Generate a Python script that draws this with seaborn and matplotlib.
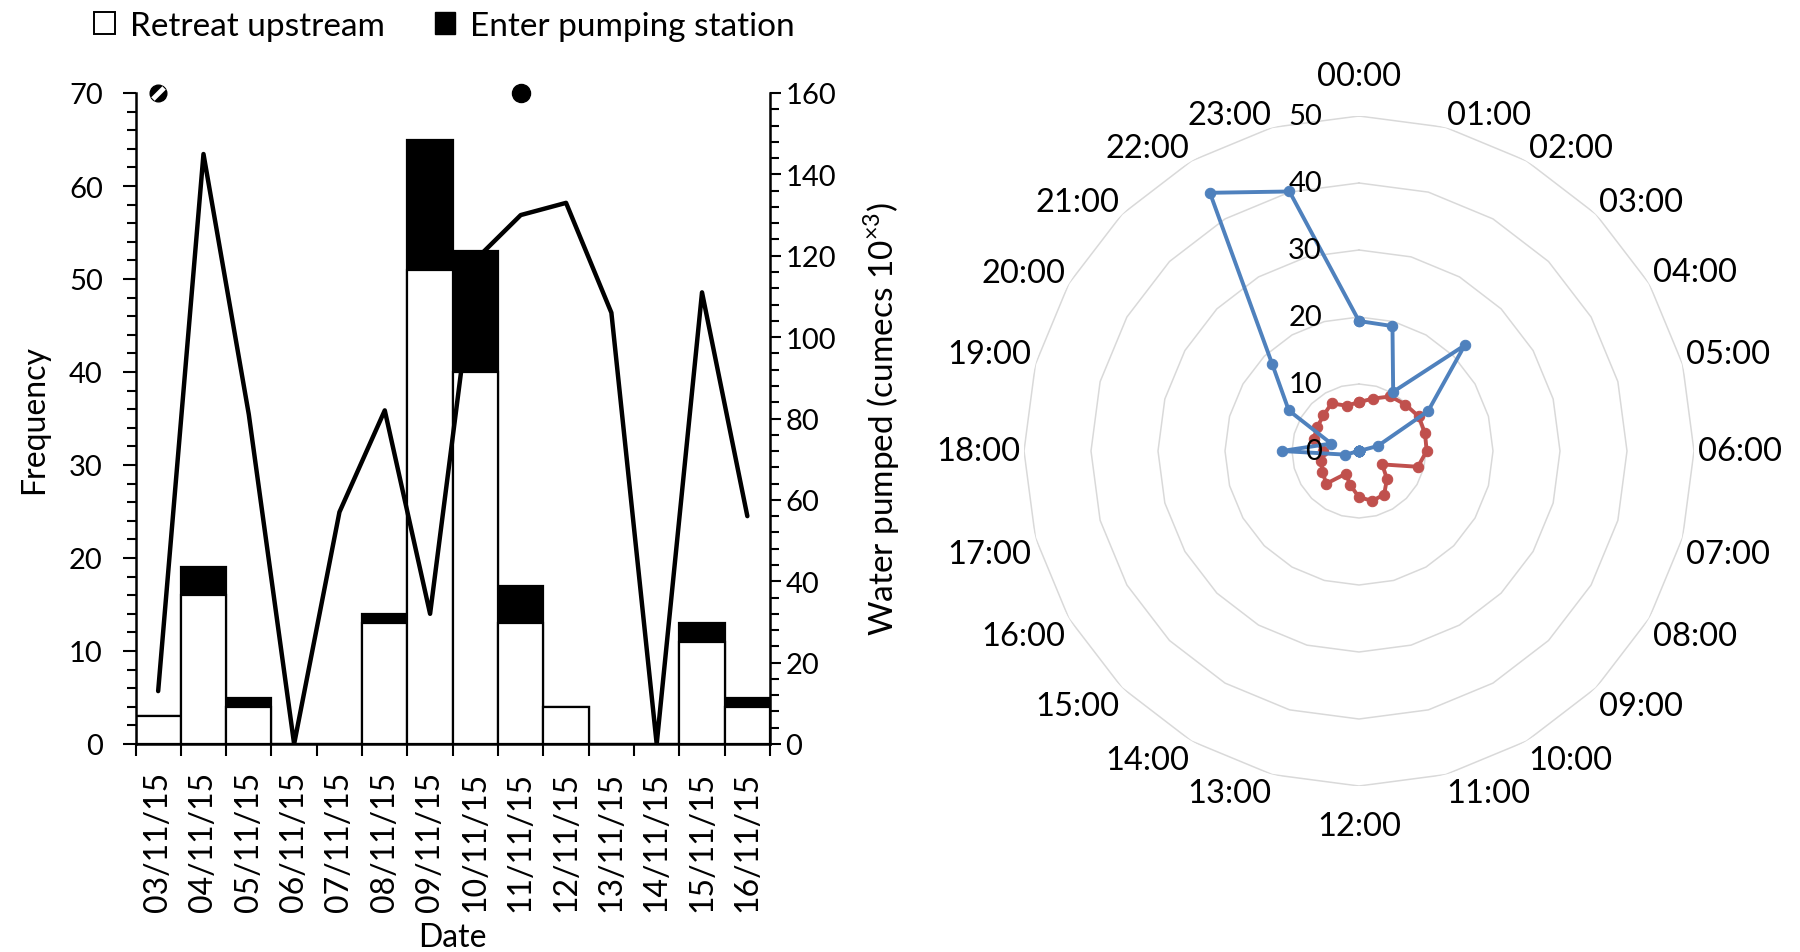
import numpy as np
import matplotlib
matplotlib.use('Agg')
import matplotlib.pyplot as plt
from matplotlib.patches import Patch
from matplotlib.path import Path
from matplotlib.ticker import MultipleLocator, FixedLocator
import seaborn as sns

# left panel: daily counts and pumped volume
dates = ['03/11/15', '04/11/15', '05/11/15', '06/11/15', '07/11/15', '08/11/15', '09/11/15',
         '10/11/15', '11/11/15', '12/11/15', '13/11/15', '14/11/15', '15/11/15', '16/11/15']
retreat = [3, 16, 4, 0, 0, 13, 51, 40, 13, 4, 0, 0, 11, 4]
enter = [0, 3, 1, 0, 0, 1, 14, 13, 4, 0, 0, 0, 2, 1]
water = [13, 145, 81, 0, 57, 82, 32, 119, 130, 133, 106, 0, 111, 56]
moon_dates = ['03/11/15', '11/11/15']
moon_phase = ['quarter', 'full']

# right panel: radar by hour of day
hours = ['00:00', '01:00', '02:00', '03:00', '04:00', '05:00', '06:00', '07:00',
         '08:00', '09:00', '10:00', '11:00', '12:00', '13:00', '14:00', '15:00',
         '16:00', '17:00', '18:00', '19:00', '20:00', '21:00', '22:00', '23:00']
blue_vals = [19.4, 19.3, 10.2, 22.3, 11.9, 2.9, 0, 0, 0, 0, 0, 0,
             0, 0, 0, 0, 0, 2.1, 11.5, 4.3, 12.1, 18.3, 44.5, 40.1]
red_vals = [7.3, 8.1, 9.4, 9.8, 10.3, 10.2, 10.1, 9.1, 4.0, 5.9, 7.5, 7.7,
            6.9, 5.2, 3.9, 6.9, 6.3, 5.8, 5.3, 7.0, 7.2, 7.5, 8.2, 7.0]
radial_ticks = [0, 10, 20, 30, 40, 50]

sns.set_theme(style='ticks')
plt.rcParams['font.family'] = ['Lato', 'DejaVu Sans']
plt.rcParams['mathtext.fontset'] = 'custom'
plt.rcParams['mathtext.rm'] = 'Lato'
plt.rcParams['axes.edgecolor'] = 'black'
plt.rcParams['xtick.color'] = 'black'
plt.rcParams['ytick.color'] = 'black'
plt.rcParams['text.color'] = 'black'
plt.rcParams['axes.labelcolor'] = 'black'

TICK_FS = 21
DATE_FS = 23
LABEL_FS = 23
LEG_FS = 24
HOUR_FS = 23.5
RAD_FS = 21

fig = plt.figure(figsize=(18, 9.53), dpi=100)

# ---------- bar + line chart ----------
ax = fig.add_axes([135.5 / 1800, (953 - 745) / 953, 634.5 / 1800, 651 / 953])
total = [r + e for r, e in zip(retreat, enter)]
sns.barplot(x=dates, y=total, color='black', saturation=1, width=1.0,
            edgecolor='black', linewidth=1.6, ax=ax)
sns.barplot(x=dates, y=retreat, color='white', saturation=1, width=1.0,
            edgecolor='black', linewidth=1.6, ax=ax)
ax.set_xlim(-0.5, len(dates) - 0.5)
ax.set_ylim(0, 70)
ax.yaxis.set_major_locator(MultipleLocator(10))
ax.yaxis.set_minor_locator(MultipleLocator(2))
ax.set_xticks(range(len(dates)))
ax.set_xticklabels(dates, rotation=90, fontsize=DATE_FS)
ax.xaxis.set_minor_locator(FixedLocator(np.arange(-0.5, len(dates), 1.0)))
ax.tick_params(axis='x', which='major', length=0, pad=19)
ax.tick_params(axis='x', which='minor', length=8.5, width=1.5, direction='out')
ax.tick_params(axis='y', which='major', length=9.5, width=1.5, direction='out',
               labelsize=TICK_FS, pad=14)
ax.tick_params(axis='y', which='minor', length=6.5, width=1.5, direction='out')
for s in ['left', 'bottom']:
    ax.spines[s].set_linewidth(1.8)
ax.spines['top'].set_visible(False)
ax.spines['right'].set_visible(False)
ax.set_ylabel('Frequency', fontsize=LABEL_FS, labelpad=14)
ax.set_xlabel('Date', fontsize=LABEL_FS, labelpad=8)

# moon phase symbols on top of the frequency axis
for d, ph in zip(moon_dates, moon_phase):
    xi = dates.index(d)
    if ph == 'full':
        ax.plot([xi], [70], marker='o', ms=13, color='black', clip_on=False, zorder=5)
    else:
        ax.plot([xi], [70], marker='o', ms=12, color='black', clip_on=False, zorder=5)
        slash = Path([(-1, -1), (1, 1)], [Path.MOVETO, Path.LINETO])
        ax.plot([xi], [70], marker=slash, ms=8, mew=3.5, color='white', clip_on=False, zorder=6)

ax2 = ax.twinx()
ax2.set_position(ax.get_position())
sns.lineplot(x=np.arange(len(dates)), y=water, color='black', linewidth=3.2, ax=ax2)
ax2.set_ylim(0, 160)
ax2.set_xlim(-0.5, len(dates) - 0.5)
ax2.yaxis.set_major_locator(MultipleLocator(20))
ax2.yaxis.set_minor_locator(MultipleLocator(4))
ax2.tick_params(axis='y', which='major', length=8, width=1.5, direction='out',
                labelsize=TICK_FS, pad=3)
ax2.tick_params(axis='y', which='minor', length=6.5, width=1.5, direction='out')
ax2.spines['right'].set_linewidth(1.8)
for s in ['top', 'left', 'bottom']:
    ax2.spines[s].set_visible(False)
ax2.set_ylabel(r'Water pumped (cumecs 10$^{\times3}$)', fontsize=LABEL_FS + 1, labelpad=18)

fig.legend(handles=[Patch(facecolor='white', edgecolor='black', linewidth=1.4),
                    Patch(facecolor='black', edgecolor='black')],
           labels=['Retreat upstream', 'Enter pumping station'],
           loc='upper left', bbox_to_anchor=(94 / 1800, 1 - 12 / 953), ncol=2, frameon=False,
           handlelength=0.62, handleheight=0.62, handletextpad=0.45,
           columnspacing=1.5, fontsize=LEG_FS, borderaxespad=0, borderpad=0)

# ---------- radar chart ----------
R_PX = 335
cx, cy = 1359, 452
pax = fig.add_axes([(cx - R_PX) / 1800, (953 - cy - R_PX) / 953, 2 * R_PX / 1800, 2 * R_PX / 953],
                   projection='polar')
pax.set_theta_zero_location('N')
pax.set_theta_direction(-1)
theta = np.linspace(0, 2 * np.pi, len(hours), endpoint=False)
theta_c = np.append(theta, 2 * np.pi)

for r in radial_ticks[1:]:
    pax.plot(theta_c, [r] * len(theta_c), color='#d9d9d9', lw=1.1, zorder=0)

red_c = red_vals + red_vals[:1]
blue_c = blue_vals + blue_vals[:1]
sns.lineplot(x=theta_c, y=red_c, sort=False, estimator=None, color='#c0504d', lw=2.8,
             marker='o', markersize=7.5, markeredgecolor='#c0504d', ax=pax, zorder=3)
sns.lineplot(x=theta_c, y=blue_c, sort=False, estimator=None, color='#4f81bd', lw=2.8,
             marker='o', markersize=7.5, markeredgecolor='#4f81bd', ax=pax, zorder=4)
pax.set_ylim(0, 50)
pax.set_xticks([])
pax.set_yticks([])
pax.grid(False)
pax.spines['polar'].set_visible(False)
pax.set_xlabel('')
pax.set_ylabel('')
pax.patch.set_alpha(0)

for r in radial_ticks:
    pax.annotate(str(r), xy=(0, r), xytext=(-37, 0), textcoords='offset pixels',
                 ha='right', va='center', fontsize=RAD_FS, zorder=10)

for th, lab in zip(theta, hours):
    s, c = np.sin(th), np.cos(th)
    if abs(s) < 1e-6:
        off = (0, 40 * np.sign(c))
        ha, va = 'center', 'center'
    else:
        off = (4 * s, 4 * c)
        ha = 'left' if s > 0 else 'right'
        if abs(c) < 1e-6:
            va = 'center'
        else:
            va = 'baseline' if c > 0 else 'top'
    pax.annotate(lab, xy=(th, 50), xytext=off, textcoords='offset pixels',
                 ha=ha, va=va, fontsize=HOUR_FS, annotation_clip=False)

fig.savefig('out.png', dpi=100)
